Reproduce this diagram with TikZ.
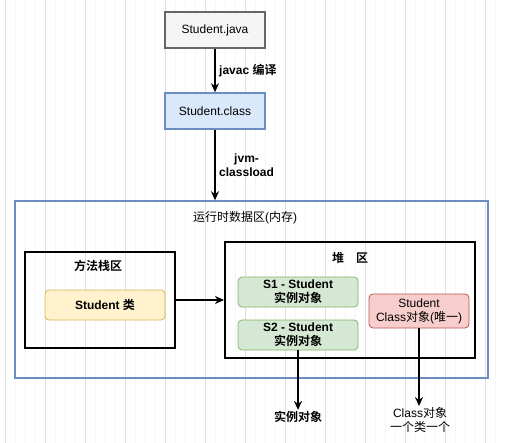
\documentclass[tikz,border=0pt]{standalone}
\usepackage{fontspec}
\setmainfont{Liberation Sans}
\newfontfamily\zh{Noto Sans CJK SC}[BoldFont={Noto Sans CJK SC Bold}]
\usetikzlibrary{arrows.meta}
\definecolor{javafill}{HTML}{F5F5F5}
\definecolor{javaline}{HTML}{666666}
\definecolor{clsfill}{HTML}{DAE8FC}
\definecolor{clsline}{HTML}{6C8EBF}
\definecolor{yelfill}{HTML}{FFF2CC}
\definecolor{yelline}{HTML}{D6B656}
\definecolor{grnfill}{HTML}{D5E8D4}
\definecolor{grnline}{HTML}{82B366}
\definecolor{redfill}{HTML}{F8CECC}
\definecolor{redline}{HTML}{B85450}
\tikzset{every picture/.style={line width=0.75pt}}
\tikzset{
  filebox/.style={draw, line width=1.5pt, minimum width=100, minimum height=36},
  areabox/.style={draw, line width=2pt},
  objbox/.style={draw, rounded corners=4pt, line width=0.8pt, align=center, font=\fontsize{12}{14}\selectfont\bfseries},
  flow/.style={line width=1.8pt, -{Stealth[length=9pt,width=8pt]}},
}

\begin{document}
\begin{tikzpicture}[x=1pt, y=-1pt, font=\fontsize{12}{14}\selectfont]
        \useasboundingbox (0,0) rectangle (505,443);
        % background grid
        \draw[gray!8, line width=0.5pt, step=10, shift={(5,0)}] (-5,0) grid (500,443);
        \draw[gray!25, line width=0.6pt, step=40, shift={(5,30)}] (-5,-30) grid (500,413);
        % source and byte code
        \node[filebox, fill=javafill, draw=javaline] (java) at (215,30) {Student.java};
        \node[filebox, fill=clsfill, draw=clsline] (cls) at (215,111) {Student.class};
        % runtime area
        \node[draw=clsline, line width=1.5pt, minimum width=473, minimum height=177] (mem) at (251.5,289.5) {};
        \node (memlbl) at (245,218) {{\zh 运行时数据区}({\zh 内存})};
        \node[areabox, minimum width=150, minimum height=96] (stack) at (100,300) {};
        \node[font=\fontsize{12}{14}\selectfont\bfseries\zh] (stacklbl) at (98,266) {方法栈区};
        \node[objbox, fill=yelfill, draw=yelline, minimum width=120, minimum height=30] (stu) at (105,305) {Student {\zh 类}};
        \node[areabox, minimum width=250, minimum height=116] (heap) at (350,300) {};
        \node[font=\fontsize{12}{14}\selectfont\bfseries\zh] (heaplbl) at (350,258) {堆\quad 区};
        \node[objbox, fill=grnfill, draw=grnline, minimum width=120, minimum height=30, inner sep=1pt] (s1) at (298,292) {S1 - Student\\{\zh 实例对象}};
        \node[objbox, fill=grnfill, draw=grnline, minimum width=120, minimum height=30, inner sep=1pt] (s2) at (298,335) {S2 - Student\\{\zh 实例对象}};
        \node[objbox, fill=redfill, draw=redline, minimum width=100, minimum height=34, inner sep=1pt, font=\fontsize{12}{14}\selectfont] (clsobj) at (419,311) {Student\\Class{\zh 对象}({\zh 唯一})};
        % results
        \node[font=\fontsize{12}{14}\selectfont\bfseries\zh, inner sep=1pt] (inst) at (298,417) {实例对象};
        \node[align=center, inner sep=1pt] (one) at (420,420) {Class{\zh 对象}\\{\zh 一个类一个}};
        % arrows
        \draw[flow] (java) -- node[right, font=\fontsize{12}{14}\selectfont\bfseries] {javac {\zh 编译}} (cls);
        \draw[flow] (cls.south) -- node[right, align=center, font=\fontsize{12}{14}\selectfont\bfseries] {jvm-\\classload} (cls.south |- mem.north);
        \draw[flow] (stack.east) -- (heap.west);
        \draw[flow] (s2.south) -- (inst.north);
        \draw[flow] (clsobj.south) -- (clsobj.south |- one.north);
    \end{tikzpicture}
\end{document}
